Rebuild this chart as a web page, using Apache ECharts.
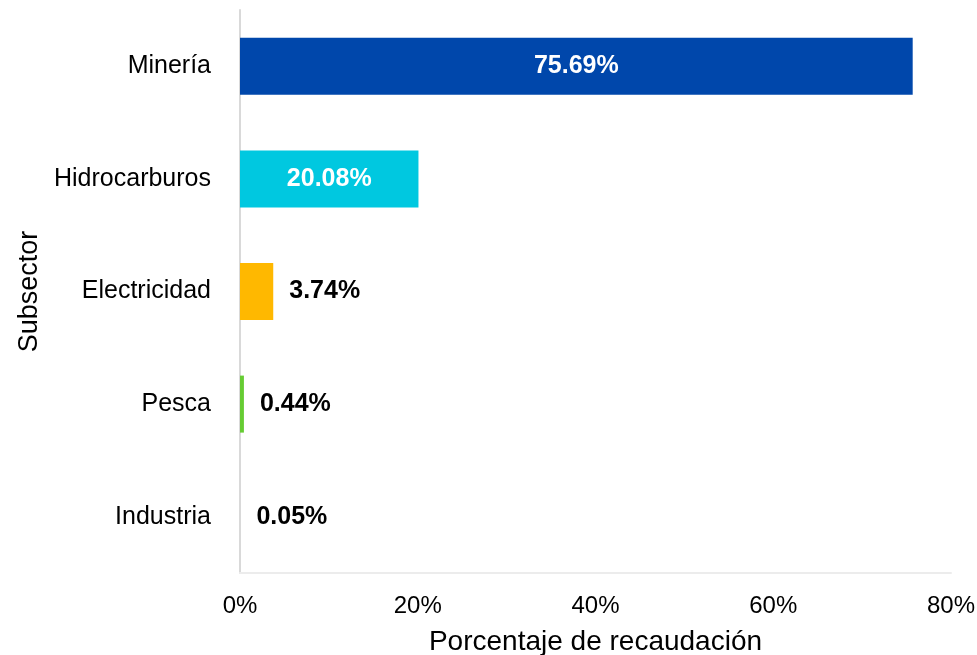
<!DOCTYPE html>
<html><head><meta charset="utf-8">
<script src="https://cdn.jsdelivr.net/npm/echarts@6/dist/echarts.min.js"></script>
<style>html,body{margin:0;padding:0;background:#fff}#c{width:977px;height:655px}</style>
</head><body><div id="c"></div>
<script>
const categories = ['Minería','Hidrocarburos','Electricidad','Pesca','Industria'];
const values = [75.69, 20.08, 3.74, 0.44, 0.05];
const colors = ['#0047AB','#00C8E0','#FFB800','#66CC33','#d9d9d9'];
const insideLabel = [true, true, false, false, false];
const xTicks = [0, 20, 40, 60, 80];

const chart = echarts.init(document.getElementById('c'));
const font = '"Liberation Sans", Arial, sans-serif';
chart.setOption({
  animation: false,
  grid: {left: 240, right: 26, top: 10, bottom: 82, containLabel: false, outerBoundsMode: 'none'},
  xAxis: {
    type: 'value', min: xTicks[0], max: xTicks[xTicks.length-1], interval: 20,
    axisLabel: {formatter: '{value}%', fontSize: 24, color: '#000', fontFamily: font, margin: 21},
    axisLine: {show: true, lineStyle: {color: '#ececec', width: 2}},
    axisTick: {show: false},
    splitLine: {show: false},
    name: 'Porcentaje de recaudación', nameLocation: 'middle', nameGap: 55,
    nameTextStyle: {fontSize: 28, color: '#000', fontFamily: font}
  },
  yAxis: {
    type: 'category', data: categories, inverse: true,
    axisLabel: {fontSize: 25, color: '#000', fontFamily: font, margin: 29, padding: [3, 0, 0, 0]},
    axisLine: {show: true, lineStyle: {color: '#d9d9d9', width: 2}},
    axisTick: {show: false},
    name: 'Subsector', nameLocation: 'middle', nameGap: 196, nameRotate: 90,
    nameTextStyle: {fontSize: 27, color: '#000', fontFamily: font}
  },
  series: [{
    type: 'bar', barWidth: 57,
    data: values.map((v, i) => ({
      value: v,
      itemStyle: {color: colors[i]},
      label: {
        show: true,
        position: insideLabel[i] ? 'inside' : 'right',
        distance: 16,
        color: insideLabel[i] ? '#fff' : '#000',
        fontWeight: 'bold', fontSize: 25, fontFamily: font,
        formatter: v.toFixed(2) + '%'
      }
    }))
  }]
});
</script></body></html>
